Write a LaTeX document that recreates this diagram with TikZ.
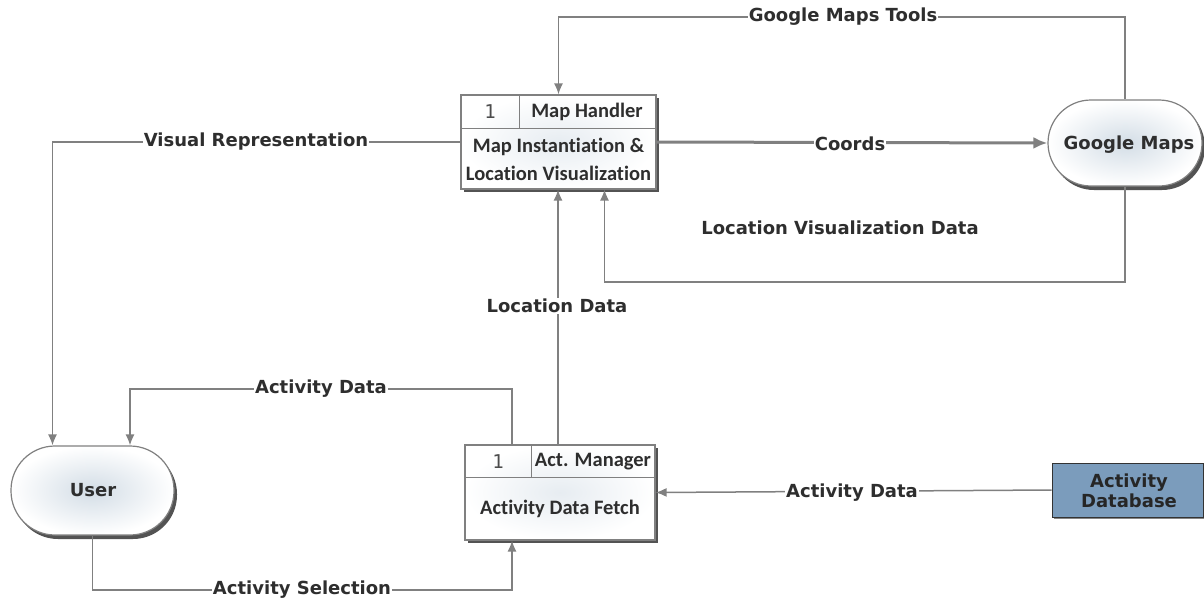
\documentclass[tikz,border=0pt]{standalone}
\usepackage{fontspec}
\setmainfont{DejaVu Sans}
\newfontfamily\boxfont{Carlito}[Ligatures=NoCommon]
\newfontfamily\monofont{DejaVu Sans Mono}
\usetikzlibrary{shadows,calc,arrows.meta}
\definecolor{linegray}{HTML}{808080}
\definecolor{txt}{HTML}{2E2E2E}
\definecolor{shadeblue}{HTML}{D3DDE6}
\definecolor{dbfill}{HTML}{7B9CBC}
\tikzset{
  flow/.style={draw=linegray, line width=1.5pt, -{Latex[length=11pt,width=9pt]}},
  lbl/.style={font=\bfseries\fontsize{18}{21}\selectfont, text=txt, fill=white, inner sep=1pt},
  procbox/.style={draw=linegray, line width=1.2pt, inner color=shadeblue!55, outer color=white,
     drop shadow={shadow xshift=3pt, shadow yshift=-3pt, fill=black!75, opacity=0.9}},
  pill/.style={draw=linegray, line width=1.2pt, inner color=shadeblue, outer color=white,
     drop shadow={shadow xshift=3pt, shadow yshift=-4pt, fill=black!75, opacity=0.9}},
  btext/.style={font=\boxfont\bfseries\fontsize{20.5}{28}\selectfont, text=txt, align=center},
  ntext/.style={font=\monofont\fontsize{19}{20}\selectfont, text=black!70},
  ptext/.style={font=\bfseries\fontsize{18}{21}\selectfont, text=txt}
}
\begin{document}
\begin{tikzpicture}[x=1pt,y=-1pt]
\useasboundingbox (0,0) rectangle (1204,602);
% Map Handler
\node[procbox, minimum width=195pt, minimum height=94pt, inner sep=0] (MH) at (558.5,142) {};
\draw[linegray, line width=1pt] (MH.west |- 0,128) -- (MH.east |- 0,128);
\draw[linegray, line width=1pt] (519,95) -- (519,128);
\node[ntext] (MHn) at (490,112) {1};
\node[btext] (MHh) at (587,112) {Map Handler};
\node[btext] (MHb) at (558.5,159) {Map Instantiation \&\\Location Visualization};
% Act Manager
\node[procbox, minimum width=190pt, minimum height=95pt, inner sep=0] (AM) at (560,492.5) {};
\draw[linegray, line width=1pt] (AM.west |- 0,477) -- (AM.east |- 0,477);
\draw[linegray, line width=1pt] (531,445) -- (531,477);
\node[ntext] (AMn) at (498,462) {1};
\node[btext] (AMh) at (593,462) {Act. Manager};
\node[btext] (AMb) at (560,509) {Activity Data Fetch};
% Google Maps
\node[pill, minimum width=154pt, minimum height=86pt, rounded corners=43pt, inner sep=0] (GM) at (1125,143) {};
\node[ptext] (GMt) at (1129,145) {Google Maps};
% User
\node[pill, minimum width=163pt, minimum height=89pt, rounded corners=44pt, inner sep=0] (U) at (92.5,490.5) {};
\node[ptext] (Ut) at (93,490) {User};
% Activity Database
\node[draw=black!80, line width=1pt, fill=dbfill, minimum width=151pt, minimum height=54pt, inner sep=0,
  drop shadow={shadow xshift=2pt, shadow yshift=-2pt, fill=black!60, opacity=0.8}] (DB) at (1127.5,490) {};
\node[font=\bfseries\fontsize{18}{20}\selectfont, text=black!85, align=center] (DBt) at (1129,491) {Activity\\Database};
% connectors
\coordinate (c1) at (0,17);
\draw[flow] (GM.north) -- (GM.north |- c1) -| (MH.north);
\node[lbl] (l1) at (843,17) {Google Maps Tools};
\coordinate (uvr) at ([xshift=-40pt]U.north);
\draw[flow] (MH.west) -| (uvr);
\node[lbl] (l2) at (256,142) {Visual Representation};
\draw[draw=linegray, line width=3pt, -{Latex[length=14pt,width=12pt]}] (MH.east) -- (GM.west);
\node[lbl] (l3) at (850,144) {Coords};
\coordinate (c4) at (0,282);
\coordinate (mhs) at ([xshift=46pt]MH.south);
\draw[flow] (GM.south) -- (GM.south |- c4) -| (mhs);
\node[lbl, fill=none] (l4) at (840,228) {Location Visualization Data};
\coordinate (lds) at ([xshift=-2pt]AM.north);
\draw[flow] (lds) -- (lds |- MH.south);
\node[lbl] (l5) at (557,306) {Location Data};
\coordinate (amn) at ([xshift=-48pt]AM.north);
\coordinate (c6) at (0,389);
\coordinate (uad) at ([xshift=37.5pt]U.north);
\draw[flow] (amn) -- (amn |- c6) -| (uad);
\node[lbl] (l6) at (321,389) {Activity Data};
\coordinate (c7) at (0,590);
\coordinate (ams) at ([xshift=-48pt]AM.south);
\draw[flow] (U.south) -- (U.south |- c7) -| (ams);
\node[lbl] (l7) at (302,590) {Activity Selection};
\draw[flow] (DB.west) -- (AM.east);
\node[lbl] (l8) at (852,493) {Activity Data};
\end{tikzpicture}
\end{document}
